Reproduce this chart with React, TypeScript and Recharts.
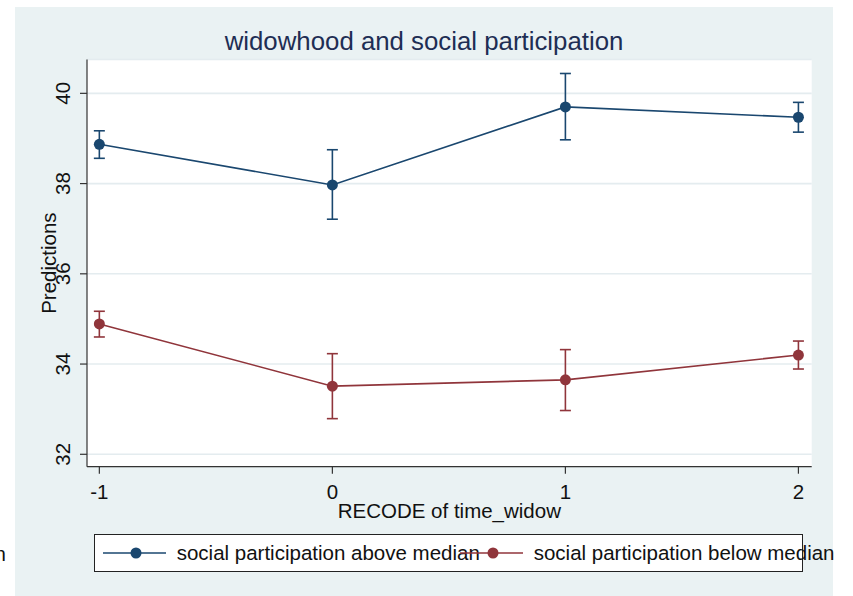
import React from 'react';
import { LineChart, Line, XAxis, YAxis, CartesianGrid, ErrorBar, Legend } from 'recharts';

// Predicted social participation by time since widowhood, with 95% CIs
const timeWidow = [-1, 0, 1, 2];
const aboveMedian = [38.87, 37.97, 39.7, 39.47];
const aboveLower = [38.56, 37.21, 38.97, 39.14];
const aboveUpper = [39.17, 38.75, 40.44, 39.8];
const belowMedian = [34.89, 33.51, 33.65, 34.2];
const belowLower = [34.6, 32.79, 32.97, 33.89];
const belowUpper = [35.17, 34.23, 34.32, 34.51];

const xTicks = [-1, 0, 1, 2];
const yTicks = [32, 34, 36, 38, 40];
const seriesNames = ['social participation above median', 'social participation below median'];
const titleText = 'widowhood and social participation';
const xTitle = 'RECODE of time_widow';
const yTitle = 'Predictions';

const NAVY = '#1a476f';
const MAROON = '#90353b';
const INK = '#111111';
const FONT = '"Liberation Sans", Arial, Helvetica, sans-serif';
const FS = 20.5;

const data = timeWidow.map((t, i) => ({
  t,
  above: aboveMedian[i],
  aboveErr: [aboveMedian[i] - aboveLower[i], aboveUpper[i] - aboveMedian[i]],
  below: belowMedian[i],
  belowErr: [belowMedian[i] - belowLower[i], belowUpper[i] - belowMedian[i]],
}));

const YTick = (props: any) => {
  const { x, y, payload } = props;
  return (
    <text
      x={x}
      y={y}
      transform={`rotate(-90, ${x}, ${y})`}
      textAnchor="middle"
      fontSize={FS}
      fontFamily={FONT}
      fill={INK}
    >
      {payload.value}
    </text>
  );
};

const XTick = (props: any) => {
  const { x, y, payload } = props;
  return (
    <text x={x} y={y + 14.6} textAnchor="middle" fontSize={FS} fontFamily={FONT} fill={INK}>
      {payload.value}
    </text>
  );
};

const XTitle = (props: any) => {
  const vb = props.viewBox;
  return (
    <text x={vb.x + vb.width / 2} y={vb.y + 51} textAnchor="middle" fontSize={FS} fontFamily={FONT} fill={INK}>
      {xTitle}
    </text>
  );
};

const YTitle = (props: any) => {
  const vb = props.viewBox;
  const x = vb.x + vb.width - 30.6;
  const y = vb.y + vb.height / 2;
  return (
    <text x={x} y={y} transform={`rotate(-90, ${x}, ${y})`} textAnchor="middle" fontSize={FS} fontFamily={FONT} fill={INK}>
      {yTitle}
    </text>
  );
};

const LegendBox = (props: any) => {
  const payload = props.payload || [];
  return (
    <div
      style={{
        position: 'relative',
        width: '100%',
        height: '100%',
        boxSizing: 'border-box',
        border: '1.3px solid #222',
        background: '#ffffff',
      }}
    >
      {payload.map((entry: any, i: number) => (
        <div
          key={i}
          style={{
            position: 'absolute',
            left: 7.7 + i * 357,
            top: 0,
            height: '100%',
            display: 'flex',
            alignItems: 'center',
            whiteSpace: 'nowrap',
          }}
        >
          <svg width={63} height={14} style={{ display: 'block', overflow: 'visible' }}>
            <line x1={0} x2={63} y1={7} y2={7} stroke={entry.color} strokeWidth={1.6} />
            <circle cx={33} cy={7} r={5.5} fill={entry.color} />
          </svg>
          <span style={{ marginLeft: 11, fontSize: FS, fontFamily: FONT, color: INK }}>{entry.value}</span>
        </div>
      ))}
    </div>
  );
};

export default function App() {
  return (
    <div
      style={{
        position: 'absolute',
        left: 0,
        top: 0,
        width: 853,
        height: 596,
        background: '#ffffff',
        overflow: 'hidden',
      }}
    >
      <div style={{ position: 'absolute', left: 15, top: 7, width: 818, height: 589, background: '#eaf2f3' }} />
      <svg width={853} height={60} style={{ position: 'absolute', left: 0, top: 0 }}>
        <text x={424} y={49.5} textAnchor="middle" fontSize={25.8} fontFamily={FONT} fill="#1e2e54">
          {titleText}
        </text>
      </svg>
      <div style={{ position: 'absolute', left: 0, top: 0 }}>
        <LineChart
          width={853}
          height={596}
          data={data}
          margin={{ top: 59.5, right: 41.3, bottom: 69.3, left: 27 }}
        >
          <CartesianGrid vertical={false} stroke="#e4ecef" strokeWidth={1.6} fill="#ffffff" fillOpacity={1} />
          <XAxis
            type="number"
            dataKey="t"
            domain={[-1.053, 2.057]}
            ticks={xTicks}
            allowDataOverflow
            height={60}
            tickSize={7}
            tickMargin={10.7}
            tick={<XTick />}
            axisLine={{ stroke: '#333', strokeWidth: 1.2 }}
            tickLine={{ stroke: '#333', strokeWidth: 1.2 }}
            label={{ content: <XTitle /> }}
          />
          <YAxis
            type="number"
            domain={[31.725, 40.75]}
            ticks={yTicks}
            allowDataOverflow
            width={60}
            tickSize={7}
            tickMargin={10}
            tick={<YTick />}
            axisLine={{ stroke: '#333', strokeWidth: 1.2 }}
            tickLine={{ stroke: '#333', strokeWidth: 1.2 }}
            label={{ content: <YTitle /> }}
          />
          <Legend
            layout="horizontal"
            verticalAlign="middle"
            align="center"
            content={<LegendBox />}
            wrapperStyle={{ left: 94, top: 534.3, width: 709.3, height: 37.4 }}
          />
          <Line
            name={seriesNames[0]}
            dataKey="above"
            stroke={NAVY}
            strokeWidth={1.6}
            dot={{ r: 5.5, fill: NAVY, stroke: NAVY, strokeWidth: 0 }}
            activeDot={false}
            isAnimationActive={false}
          >
            <ErrorBar dataKey="aboveErr" direction="y" width={5.5} stroke={NAVY} strokeWidth={1.6} isAnimationActive={false} />
          </Line>
          <Line
            name={seriesNames[1]}
            dataKey="below"
            stroke={MAROON}
            strokeWidth={1.6}
            dot={{ r: 5.5, fill: MAROON, stroke: MAROON, strokeWidth: 0 }}
            activeDot={false}
            isAnimationActive={false}
          >
            <ErrorBar dataKey="belowErr" direction="y" width={5.5} stroke={MAROON} strokeWidth={1.6} isAnimationActive={false} />
          </Line>
        </LineChart>
      </div>
      <span
        style={{
          position: 'absolute',
          left: -5.5,
          top: 541.5,
          fontSize: FS,
          fontFamily: FONT,
          color: INK,
          lineHeight: 'normal',
        }}
      >
        n
      </span>
    </div>
  );
}
